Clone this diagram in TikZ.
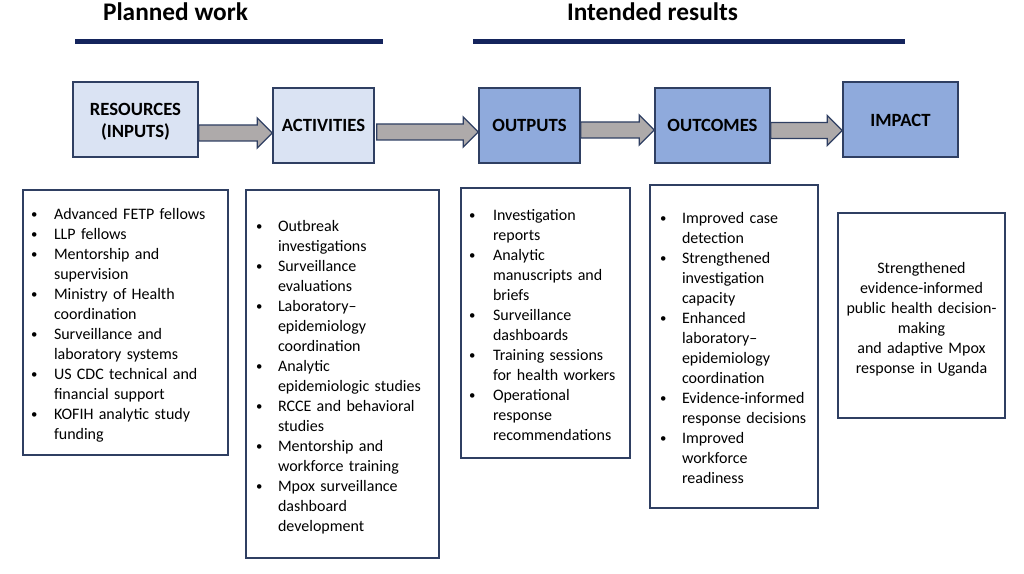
\documentclass[tikz,border=0pt]{standalone}
\usepackage{fontspec}
\setmainfont{Carlito}
\usetikzlibrary{calc}
\definecolor{LogicNavy}{HTML}{14245C}
\definecolor{LogicEdge}{HTML}{2F3F62}
\definecolor{LogicLight}{HTML}{DAE3F3}
\definecolor{LogicMid}{HTML}{8FAADC}
\definecolor{LogicGrey}{HTML}{AEAAAA}
\tikzset{
  header/.style={font=\fontsize{19}{23}\selectfont\bfseries,inner sep=0pt},
  rule/.style={LogicNavy,line width=3.75pt},
  stage/.style={draw=LogicEdge,line width=1.1pt,minimum height=56.25pt,inner sep=2pt,align=center,font=\fontsize{14}{17}\selectfont\bfseries},
  listbox/.style={draw=LogicEdge,line width=1.1pt,inner xsep=7.5pt,inner ysep=0pt,align=left,font=\fontsize{12}{15}\selectfont},
  fatarrow/.style={fill=LogicGrey,draw=LogicEdge,line width=1pt,line join=miter}
}
% block arrow between two coordinates (start, tip)
\newcommand{\flowarrow}[2]{%
  \draw[fatarrow] ($(#1)+(0,-8)$) -- ($(#2)+(-15,-8)$) -- ($(#2)+(-15,-15)$) -- (#2)
    -- ($(#2)+(-15,15)$) -- ($(#2)+(-15,8)$) -- ($(#1)+(0,8)$) -- cycle;}
\newcommand{\bl}{\hspace*{-1.5pt}\raisebox{0.6pt}{\scalebox{0.8}{\textbullet}}}
\newcommand{\tp}[1]{\rule{0pt}{#1}}

\begin{document}
\begin{tikzpicture}[x=0.75pt,y=-0.75pt,line cap=butt]
  \useasboundingbox (0,0) rectangle (1024,574);

  % headings
  \node[header,anchor=base] (planned) at (175.5,21) {Planned work};
  \node[header,anchor=base] (intended) at (652.5,21) {Intended results};
  \draw[rule] (75,42) -- (383,42);
  \draw[rule] (473,42) -- (905,42);

  % stages
  \node[stage,fill=LogicLight,minimum width=93.75pt] (res) at (135.5,119.5) {\tp{12.5pt}RESOURCES\\(INPUTS)};
  \node[stage,fill=LogicLight,minimum width=75.75pt] (act) at (323.5,125.5) {ACTIVITIES};
  \node[stage,fill=LogicMid,minimum width=75.75pt] (outp) at (529.5,125.5) {OUTPUTS};
  \node[stage,fill=LogicMid,minimum width=86.25pt] (outc) at (712.5,125.5) {OUTCOMES};
  \node[stage,fill=LogicMid,minimum width=86.25pt] (imp) at (900.5,119.5) {\tp{11pt}IMPACT};

  \path (res.east |- 0,133) coordinate (a1s) (act.west |- 0,133) coordinate (a1e);
  \path ([xshift=1.5pt]act.east |- 0,132) coordinate (a2s) (outp.west |- 0,132) coordinate (a2e);
  \path (outp.east |- 0,130) coordinate (a3s) (outc.west |- 0,130) coordinate (a3e);
  \path (outc.east |- 0,130.5) coordinate (a4s) (imp.west |- 0,130.5) coordinate (a4e);
  \flowarrow{a1s}{a1e}
  \flowarrow{a2s}{a2e}
  \flowarrow{a3s}{a3e}
  \flowarrow{a4s}{a4e}

  % lists
  \node[listbox,text width=138.75pt,minimum height=198.75pt] (resl) at (125.5,322.5) {%
    \begin{tabular}{@{}p{15.75pt}@{}l@{}}
    \bl & \tp{15pt}Advanced FETP fellows\\
    \bl & LLP fellows\\
    \bl & Mentorship and\\
        & supervision\\
    \bl & Ministry of Health\\
        & coordination\\
    \bl & Surveillance and\\
        & laboratory systems\\
    \bl & US CDC technical and\\
        & financial support\\
    \bl & KOFIH analytic study\\
        & funding
    \end{tabular}};
  \node[listbox,text width=126.75pt,inner xsep=9pt,minimum height=276pt] (actl) at (342.5,374) {%
    \begin{tabular}{@{}p{15pt}@{}l@{}}
    \bl & \tp{15pt}Outbreak\\
        & investigations\\
    \bl & Surveillance\\
        & evaluations\\
    \bl & Laboratory--\\
        & epidemiology\\
        & coordination\\
    \bl & Analytic\\
        & epidemiologic studies\\
    \bl & RCCE and behavioral\\
        & studies\\
    \bl & Mentorship and\\
        & workforce training\\
    \bl & Mpox surveillance\\
        & dashboard\\
        & development
    \end{tabular}};
  \node[listbox,text width=111.75pt,minimum height=202.5pt] (outpl) at (545.5,323) {%
    \begin{tabular}{@{}p{16.5pt}@{}l@{}}
    \bl & \tp{15pt}Investigation\\
        & reports\\
    \bl & Analytic\\
        & manuscripts and\\
        & briefs\\
    \bl & Surveillance\\
        & dashboards\\
    \bl & Training sessions\\
        & for health workers\\
    \bl & Operational\\
        & response\\
        & recommendations
    \end{tabular}};
  \node[listbox,text width=108pt,inner xsep=9pt,minimum height=242.25pt] (outcl) at (734,346.5) {%
    \begin{tabular}{@{}p{15pt}@{}l@{}}
    \bl & \tp{15pt}Improved case\\
        & detection\\
    \bl & Strengthened\\
        & investigation\\
        & capacity\\
    \bl & Enhanced\\
        & laboratory--\\
        & epidemiology\\
        & coordination\\
    \bl & Evidence-informed\\
        & response decisions\\
    \bl & Improved\\
        & workforce\\
        & readiness
    \end{tabular}};
  \node[listbox,align=center,text width=124.25pt,inner xsep=0.5pt,minimum height=153.75pt] (impl) at (921.5,315.5) {%
    \tp{13.5pt}Strengthened\\evidence-informed\\public health decision-\\making\\and adaptive Mpox\\response in Uganda};
\end{tikzpicture}
\end{document}
